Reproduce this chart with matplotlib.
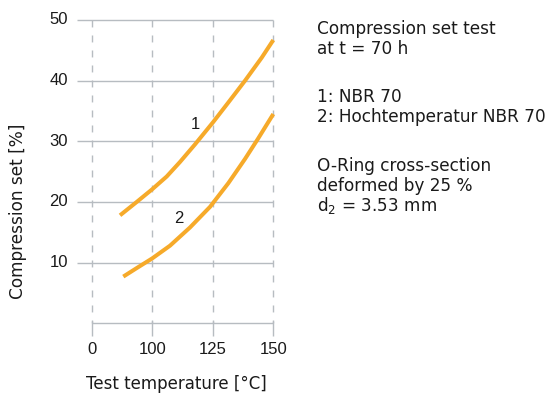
import matplotlib
matplotlib.use("Agg")
import matplotlib.pyplot as plt

# Test temperature axis: evenly spaced category slots
x_ticklabels = ["0", "100", "125", "150"]
x_slots = [0, 1, 2, 3]
y_ticks = [10, 20, 30, 40, 50]

# Curve 1: NBR 70 (slot position, compression set %)
nbr_x = [0.468, 0.743, 1.0, 1.239, 1.459, 1.707, 2.009, 2.257, 2.533, 2.809, 3.0]
nbr_y = [17.8, 20.0, 22.1, 24.2, 26.6, 29.5, 33.2, 36.4, 40.0, 43.8, 46.7]

# Curve 2: Hochtemperatur NBR 70
ht_x = [0.522, 0.743, 1.0, 1.294, 1.624, 1.955, 2.257, 2.533, 2.752, 3.0]
ht_y = [7.7, 9.1, 10.7, 12.8, 15.8, 19.2, 23.1, 27.1, 30.5, 34.5]

info_lines = [
    ("Compression set test", 34.3),
    ("at t = 70 h", 54.3),
    ("1: NBR 70", 101.7),
    ("2: Hochtemperatur NBR 70", 121.7),
    ("O-Ring cross-section", 170.7),
    ("deformed by 25 %", 190.7),
    ("d$_2$ = 3.53 mm", 210.7),
]

W, H = 552, 394
GRID = "#b7bcc1"
ORANGE = "#f6aa2a"
TXT = "#1a1a1a"
WORD_FONT = "DejaVu Sans"
NUM_FONT = "Liberation Sans"

fig = plt.figure(figsize=(W / 100, H / 100), dpi=100)
x0, x1 = 91.7, 273.3
ytop, ybot = 20.0, 323.3
ax = fig.add_axes([x0 / W, (H - ybot) / H, (x1 - x0) / W, (ybot - ytop) / H])
ax.set_xlim(0, 3)
ax.set_ylim(0, 50)
ax.axis("off")

px_x = (x1 - x0) / 3.0
px_y = (ybot - ytop) / 50.0

# horizontal solid grid lines
for v in y_ticks:
    ax.plot([-15 / px_x, 3], [v, v], color=GRID, lw=1.0, clip_on=False,
            solid_capstyle="butt", zorder=1)
# baseline of the temperature axis
ax.plot([0, 3], [0, 0], color=GRID, lw=1.0, clip_on=False,
        solid_capstyle="butt", zorder=1)
# vertical dashed lines and ticks
for s in x_slots:
    ax.plot([s, s], [50, 0], color=GRID, lw=1.0, clip_on=False,
            linestyle=(0, (5.0, 5.8)), zorder=1)
    ax.plot([s, s], [2.3 / px_y, -12.7 / px_y], color=GRID, lw=1.0,
            clip_on=False, solid_capstyle="butt", zorder=1)

# curves
ax.plot(nbr_x, nbr_y, color=ORANGE, lw=2.9, solid_capstyle="butt",
        solid_joinstyle="round", clip_on=False, zorder=3)
ax.plot(ht_x, ht_y, color=ORANGE, lw=2.9, solid_capstyle="butt",
        solid_joinstyle="round", clip_on=False, zorder=3)

ax.text(1.72, 32.7, "1", fontsize=12, family=NUM_FONT, color=TXT,
        ha="center", va="center")
ax.text(1.44, 17.2, "2", fontsize=12, family=NUM_FONT, color=TXT,
        ha="center", va="center")

# tick labels
for v in y_ticks:
    ax.text(-23.7 / px_x, v, str(v), fontsize=12, family=NUM_FONT,
            color=TXT, ha="right", va="center", clip_on=False)
for s, lab in zip(x_slots, x_ticklabels):
    ax.text(s, -26.7 / px_y, lab, fontsize=12, family=NUM_FONT,
            color=TXT, ha="center", va="center", clip_on=False)

# axis titles
fig.text(18.3 / W, 1 - 211 / H, "Compression set [%]", rotation=90,
         fontsize=12.2, family=WORD_FONT, color=TXT, ha="center", va="center")
fig.text(176 / W, 1 - 389.3 / H, "Test temperature [°C]",
         fontsize=12.0, family=WORD_FONT, color=TXT, ha="center", va="baseline")

# side notes
for line, base in info_lines:
    fig.text(316.7 / W, 1 - base / H, line, fontsize=12.2, family=WORD_FONT,
             color=TXT, ha="left", va="baseline")

fig.savefig("out.png", dpi=100)
